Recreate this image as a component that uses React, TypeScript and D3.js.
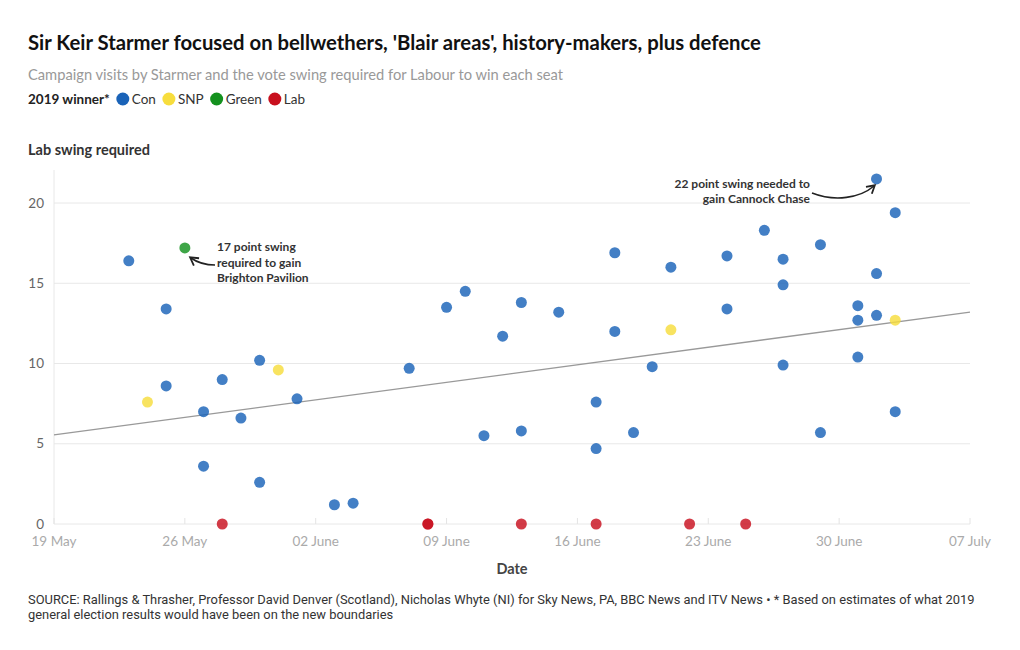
import { useEffect, useRef } from 'react';
import * as d3 from 'd3';

// visit dates and Lab swing required
const visitDates = [
  '2024-05-23', '2024-05-24', '2024-05-25', '2024-05-25', '2024-05-26', '2024-05-27', '2024-05-27',
  '2024-05-28', '2024-05-28', '2024-05-29', '2024-05-30', '2024-05-30', '2024-05-31', '2024-06-01',
  '2024-06-03', '2024-06-04', '2024-06-07', '2024-06-08', '2024-06-08', '2024-06-09', '2024-06-10',
  '2024-06-11', '2024-06-12', '2024-06-13', '2024-06-13', '2024-06-13', '2024-06-15', '2024-06-17',
  '2024-06-17', '2024-06-17', '2024-06-18', '2024-06-18', '2024-06-19', '2024-06-20', '2024-06-21',
  '2024-06-21', '2024-06-22', '2024-06-24', '2024-06-24', '2024-06-25', '2024-06-26', '2024-06-27',
  '2024-06-27', '2024-06-27', '2024-06-29', '2024-06-29', '2024-07-01', '2024-07-01', '2024-07-01',
  '2024-07-02', '2024-07-02', '2024-07-02', '2024-07-03', '2024-07-03', '2024-07-03',
];
const swings = [
  16.4, 7.6, 13.4, 8.6, 17.2, 7.0, 3.6,
  9.0, 0, 6.6, 10.2, 2.6, 9.6, 7.8,
  1.2, 1.3, 9.7, 0, 0, 13.5, 14.5,
  5.5, 11.7, 13.8, 5.8, 0, 13.2, 7.6,
  4.7, 0, 16.9, 12.0, 5.7, 9.8, 16.0,
  12.1, 0, 16.7, 13.4, 0, 18.3, 16.5,
  14.9, 9.9, 17.4, 5.7, 13.6, 12.7, 10.4,
  21.5, 15.6, 13.0, 19.4, 12.7, 7.0,
];
const winners = [
  'Con', 'SNP', 'Con', 'Con', 'Green', 'Con', 'Con',
  'Con', 'Lab', 'Con', 'Con', 'Con', 'SNP', 'Con',
  'Con', 'Con', 'Con', 'Lab', 'Lab', 'Con', 'Con',
  'Con', 'Con', 'Con', 'Con', 'Lab', 'Con', 'Con',
  'Con', 'Lab', 'Con', 'Con', 'Con', 'Con', 'Con',
  'SNP', 'Lab', 'Con', 'Con', 'Lab', 'Con', 'Con',
  'Con', 'Con', 'Con', 'Con', 'Con', 'Con', 'Con',
  'Con', 'Con', 'Con', 'Con', 'SNP', 'Con',
];

const parties = ['Con', 'SNP', 'Green', 'Lab'];
const partyColors = ['#1a63b8', '#f7dd3d', '#14911e', '#c8101e'];

const yTicks = [0, 5, 10, 15, 20];
const xTickDates = ['2024-05-19', '2024-05-26', '2024-06-02', '2024-06-09', '2024-06-16', '2024-06-23', '2024-06-30', '2024-07-07'];
const xTickLabels = ['19 May', '26 May', '02 June', '09 June', '16 June', '23 June', '30 June', '07 July'];

// trend line end values
const trendDates = ['2024-05-19', '2024-07-07'];
const trendValues = [5.55, 13.2];

const FONT = "Lato, 'Open Sans', sans-serif";

const App = () => {
  const svgRef = useRef<SVGSVGElement | null>(null);

  useEffect(() => {
    if (svgRef.current === null) return;
    const svg = d3.select(svgRef.current);
    svg.selectAll('*').remove();

    const parse = d3.utcParse('%Y-%m-%d');
    const margin = { left: 54, right: 50, top: 170, bottom: 126 };
    const width = 1020;
    const height = 650;

    const x = d3
      .scaleUtc()
      .domain([parse('2024-05-19')!, parse('2024-07-07')!])
      .range([margin.left, width - margin.right]);
    const y = d3
      .scaleLinear()
      .domain([0, 20])
      .range([height - margin.bottom, height - margin.bottom - 321]);
    const color = d3.scaleOrdinal<string, string>().domain(parties).range(partyColors);

    const y0 = y(0);
    const yTop = margin.top;

    // titles
    svg
      .append('text')
      .attr('x', 28)
      .attr('y', 50)
      .attr('font-family', FONT)
      .attr('font-size', 20.3)
      .attr('font-weight', 700)
      .attr('fill', '#111')
      .text("Sir Keir Starmer focused on bellwethers, 'Blair areas', history-makers, plus defence");

    svg
      .append('text')
      .attr('x', 28)
      .attr('y', 80)
      .attr('font-family', FONT)
      .attr('font-size', 14.7)
      .attr('fill', '#999')
      .text('Campaign visits by Starmer and the vote swing required for Labour to win each seat');

    // legend, laid out from measured text widths
    const legend = svg.append('g').attr('font-family', FONT).attr('font-size', 13.5);
    const head = legend
      .append('text')
      .attr('x', 28)
      .attr('y', 104)
      .attr('font-weight', 700)
      .attr('fill', '#222')
      .text('2019 winner*');
    let lx = 28 + (head.node() as SVGTextElement).getComputedTextLength() + 13;
    parties.forEach((p) => {
      legend
        .append('circle')
        .attr('cx', lx)
        .attr('cy', 99)
        .attr('r', 6.5)
        .attr('fill', color(p));
      const t = legend
        .append('text')
        .attr('x', lx + 9)
        .attr('y', 104)
        .attr('fill', '#333')
        .text(p);
      lx += 9 + (t.node() as SVGTextElement).getComputedTextLength() + 13;
    });

    svg
      .append('text')
      .attr('x', 28)
      .attr('y', 155)
      .attr('font-family', FONT)
      .attr('font-size', 14.5)
      .attr('font-weight', 700)
      .attr('fill', '#333')
      .text('Lab swing required');

    // grid
    svg
      .append('g')
      .selectAll('line')
      .data(yTicks)
      .enter()
      .append('line')
      .attr('x1', margin.left)
      .attr('x2', width - margin.right)
      .attr('y1', (d) => y(d))
      .attr('y2', (d) => y(d))
      .attr('stroke', '#e8e8e8')
      .attr('stroke-width', 1);

    svg
      .append('line')
      .attr('x1', margin.left)
      .attr('x2', margin.left)
      .attr('y1', yTop)
      .attr('y2', y0)
      .attr('stroke', '#e8e8e8');

    // y tick labels
    svg
      .append('g')
      .selectAll('text')
      .data(yTicks)
      .enter()
      .append('text')
      .attr('x', margin.left - 10)
      .attr('y', (d) => y(d) + 4.5)
      .attr('text-anchor', 'end')
      .attr('font-family', FONT)
      .attr('font-size', 13.5)
      .attr('fill', '#666')
      .text((d) => d);

    // x ticks
    const xg = svg.append('g');
    xTickDates.forEach((d, i) => {
      const xp = x(parse(d)!);
      xg.append('line')
        .attr('x1', xp)
        .attr('x2', xp)
        .attr('y1', y0 - 6)
        .attr('y2', y0)
        .attr('stroke', '#e4e4e4');
      xg.append('text')
        .attr('x', xp)
        .attr('y', y0 + 22)
        .attr('text-anchor', 'middle')
        .attr('font-family', FONT)
        .attr('font-size', 13.5)
        .attr('fill', '#aaa')
        .text(xTickLabels[i]);
    });

    svg
      .append('text')
      .attr('x', (margin.left + width - margin.right) / 2)
      .attr('y', 574)
      .attr('text-anchor', 'middle')
      .attr('font-family', FONT)
      .attr('font-size', 14.5)
      .attr('font-weight', 700)
      .attr('fill', '#444')
      .text('Date');

    // trend line
    const line = d3
      .line<number>()
      .x((_, i) => x(parse(trendDates[i])!))
      .y((d) => y(d));
    svg
      .append('path')
      .attr('d', line(trendValues))
      .attr('fill', 'none')
      .attr('stroke', '#999')
      .attr('stroke-width', 1.3);

    // dots
    svg
      .append('g')
      .selectAll('circle')
      .data(swings)
      .enter()
      .append('circle')
      .attr('cx', (_, i) => x(parse(visitDates[i])!))
      .attr('cy', (d) => y(d))
      .attr('r', 5.5)
      .attr('fill', (_, i) => color(winners[i]))
      .attr('fill-opacity', 0.82);

    // annotations
    svg
      .append('defs')
      .append('marker')
      .attr('id', 'arrowhead')
      .attr('viewBox', '0 0 10 10')
      .attr('refX', 7)
      .attr('refY', 5)
      .attr('markerWidth', 7)
      .attr('markerHeight', 7)
      .attr('orient', 'auto-start-reverse')
      .append('path')
      .attr('d', 'M1,1 L8,5 L1,9')
      .attr('fill', 'none')
      .attr('stroke', '#222')
      .attr('stroke-width', 1.6);

    const ann = svg.append('g').attr('font-family', FONT).attr('font-size', 12).attr('font-weight', 700).attr('fill', '#333');
    ['17 point swing', 'required to gain', 'Brighton Pavilion'].forEach((t, i) => {
      ann.append('text').attr('x', 217).attr('y', 251 + i * 15.5).text(t);
    });
    ['22 point swing needed to', 'gain Cannock Chase'].forEach((t, i) => {
      ann.append('text').attr('x', 810).attr('y', 188 + i * 15).attr('text-anchor', 'end').text(t);
    });

    svg
      .append('path')
      .attr('d', 'M215,265 C205,265 198,263 191,258')
      .attr('fill', 'none')
      .attr('stroke', '#222')
      .attr('stroke-width', 1.6)
      .attr('marker-end', 'url(#arrowhead)');
    svg
      .append('path')
      .attr('d', 'M812,193 C835,202 860,198 874,186')
      .attr('fill', 'none')
      .attr('stroke', '#222')
      .attr('stroke-width', 1.6)
      .attr('marker-end', 'url(#arrowhead)');

    // source
    const src = svg
      .append('text')
      .attr('font-family', "Roboto, sans-serif")
      .attr('font-size', 12.9)
      .attr('fill', '#333');
    src
      .append('tspan')
      .attr('x', 28)
      .attr('y', 604)
      .text('SOURCE: Rallings & Thrasher, Professor David Denver (Scotland), Nicholas Whyte (NI) for Sky News, PA, BBC News and ITV News • * Based on estimates of what 2019');
    src
      .append('tspan')
      .attr('x', 28)
      .attr('y', 619)
      .text('general election results would have been on the new boundaries');
  }, []);

  return (
    <svg
      ref={svgRef}
      width={1020}
      height={650}
      style={{ position: 'absolute', left: 0, top: 0, background: '#fff' }}
    ></svg>
  );
};

export default App;
